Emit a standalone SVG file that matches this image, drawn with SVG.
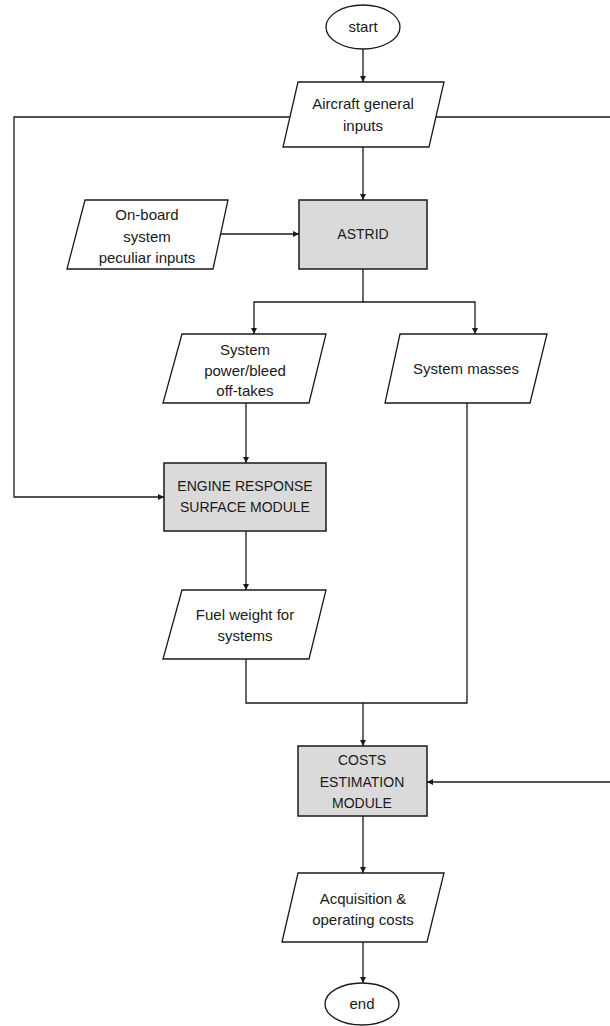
<svg xmlns="http://www.w3.org/2000/svg" width="610" height="1026" viewBox="0 0 610 1026">
<style>
.sh{fill:#fff;stroke:#1a1a1a;stroke-width:1.3}
.pr{fill:#dadada;stroke:#1a1a1a;stroke-width:1.5}
.c{fill:none;stroke:#1a1a1a;stroke-width:1.3}
text{font-family:"Liberation Sans",Arial,sans-serif;font-size:15px;fill:#1a1a1a;text-anchor:middle}
.cap{font-size:14px}
</style>
<defs>
<marker id="a" viewBox="0 0 8 8" refX="8" refY="4" markerWidth="6" markerHeight="6" orient="auto" markerUnits="userSpaceOnUse">
<path d="M0,0 L8,4 L0,8 z" fill="#1a1a1a"/>
</marker>
</defs>
<rect width="610" height="1026" fill="#fff"/>
<g id="connectors">
<path class="c" d="M363,49 V82" marker-end="url(#a)"/>
<path class="c" d="M363,147 V200" marker-end="url(#a)"/>
<path class="c" d="M290,117 H14 V497 H164" marker-end="url(#a)"/>
<path class="c" d="M436,117 H614 V782 H427" marker-end="url(#a)"/>
<path class="c" d="M221,234 H299" marker-end="url(#a)"/>
<path class="c" d="M363,269 V302 H254 V334" marker-end="url(#a)"/>
<path class="c" d="M363,302 H475 V334" marker-end="url(#a)"/>
<path class="c" d="M246,403 V463" marker-end="url(#a)"/>
<path class="c" d="M246,531 V590" marker-end="url(#a)"/>
<path class="c" d="M246,659 V703 H467 V403"/>
<path class="c" d="M363,703 V746" marker-end="url(#a)"/>
<path class="c" d="M363,816 V873" marker-end="url(#a)"/>
<path class="c" d="M363,942 V983" marker-end="url(#a)"/>
</g>
<g id="start">
<ellipse class="sh" cx="363" cy="27" rx="37" ry="22"/>
<text x="363" y="32">start</text>
</g>
<g id="aircraft-inputs">
<polygon class="sh" points="298,82 444,82 429,147 283,147"/>
<text x="363" y="109">Aircraft general</text>
<text x="363" y="131">inputs</text>
</g>
<g id="onboard-inputs">
<polygon class="sh" points="85,200 228,200 213,269 67,269"/>
<text x="147" y="220">On-board</text>
<text x="147" y="242">system</text>
<text x="147" y="263">peculiar inputs</text>
</g>
<g id="astrid">
<rect class="pr" x="299" y="200" width="128" height="69"/>
<text class="cap" x="363" y="239">ASTRID</text>
</g>
<g id="system-power">
<polygon class="sh" points="182,334 326,334 309,403 163,403"/>
<text x="245" y="355">System</text>
<text x="245" y="376">power/bleed</text>
<text x="245" y="396">off-takes</text>
</g>
<g id="system-masses">
<polygon class="sh" points="400,334 547,334 530,403 385,403"/>
<text x="466" y="374">System masses</text>
</g>
<g id="engine-module">
<rect class="pr" x="164" y="463" width="162" height="68"/>
<text class="cap" x="245" y="491">ENGINE RESPONSE</text>
<text class="cap" x="245" y="512">SURFACE MODULE</text>
</g>
<g id="fuel-weight">
<polygon class="sh" points="182,590 326,590 309,659 163,659"/>
<text x="245" y="620">Fuel weight for</text>
<text x="245" y="641">systems</text>
</g>
<g id="costs-module">
<rect class="pr" x="298" y="746" width="129" height="70"/>
<text class="cap" x="362" y="765">COSTS</text>
<text class="cap" x="362" y="787">ESTIMATION</text>
<text class="cap" x="362" y="808">MODULE</text>
</g>
<g id="acquisition-costs">
<polygon class="sh" points="298,873 444,873 427,942 282,942"/>
<text x="363" y="904">Acquisition &amp;</text>
<text x="363" y="925">operating costs</text>
</g>
<g id="end">
<ellipse class="sh" cx="362" cy="1004" rx="37" ry="21"/>
<text x="362" y="1009">end</text>
</g>
</svg>
